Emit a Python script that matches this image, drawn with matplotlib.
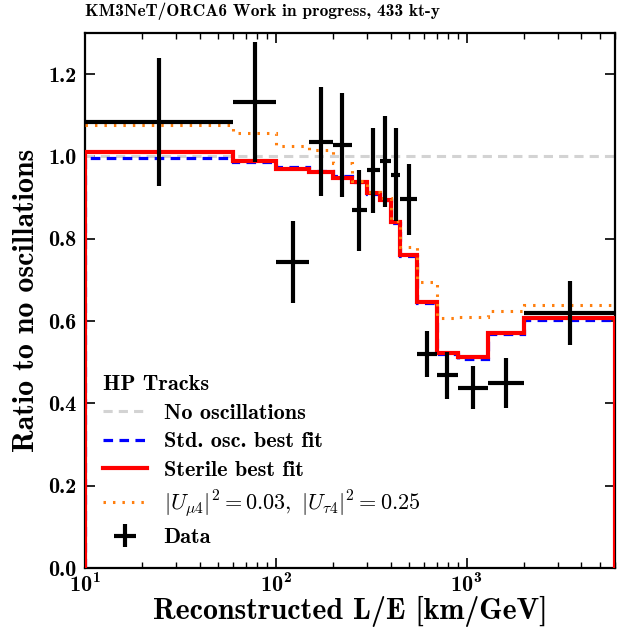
import matplotlib
matplotlib.use("Agg")
import matplotlib.pyplot as plt
from matplotlib.lines import Line2D
import numpy as np

plt.rcParams['font.family'] = ['cmb10', 'DejaVu Serif']
plt.rcParams['mathtext.fontset'] = 'cm'
plt.rcParams['axes.unicode_minus'] = False
plt.rcParams['axes.formatter.use_mathtext'] = True

# L/E binning [km/GeV]
bin_edges = [10, 60, 100, 150, 200, 250, 300, 350, 400, 450, 550, 700, 900, 1300, 2000, 6000]

# Ratio to no oscillations, per bin
no_osc = [1.0] * 15
std_osc = [0.997, 0.986, 0.975, 0.965, 0.952, 0.937, 0.909, 0.893, 0.838, 0.758,
           0.644, 0.519, 0.508, 0.569, 0.602]
sterile = [1.012, 0.990, 0.970, 0.962, 0.948, 0.938, 0.911, 0.895, 0.840, 0.761,
           0.647, 0.522, 0.512, 0.572, 0.607]
alt_hyp = [1.077, 1.057, 1.026, 1.015, 0.984, 0.941, 0.914, 0.898, 0.843, 0.781,
           0.696, 0.607, 0.609, 0.625, 0.639]

# Measured data
data_x = [24.5, 77.5, 122.5, 173.2, 223.6, 273.9, 324.0, 374.2, 424.3, 500.0,
          620.5, 793.7, 1081.7, 1612.5, 3464.1]
data_y = [1.084, 1.132, 0.743, 1.036, 1.028, 0.869, 0.966, 0.988, 0.956, 0.896,
          0.520, 0.468, 0.438, 0.450, 0.619]
data_yerr = [0.155, 0.145, 0.099, 0.133, 0.126, 0.098, 0.104, 0.110, 0.113, 0.086,
             0.057, 0.057, 0.052, 0.061, 0.078]

edges = np.array(bin_edges, dtype=float)
xc = np.array(data_x)
xerr = np.vstack([xc - edges[:-1], edges[1:] - xc])

GRAY_DASH = (0, (3, 2))
BLUE_DASH = (0, (3, 2))
DOTS = (0, (0.8, 2.3))

fig = plt.figure(figsize=(6.17, 6.28), dpi=100)
ax = fig.add_axes([0.1378, 0.0955, 0.859, 0.852])

ax.stairs(no_osc, edges, baseline=None, color='lightgray', lw=2.2, ls=GRAY_DASH, zorder=2)
ax.stairs(std_osc, edges, baseline=0, color='blue', lw=2.3, ls=BLUE_DASH, zorder=3)
ax.stairs(sterile, edges, baseline=0, color='red', lw=3.0, zorder=4)
ax.stairs(alt_hyp, edges, baseline=None, color='tab:orange', lw=2.2, ls=DOTS, zorder=5)
err = ax.errorbar(xc, data_y, xerr=xerr, yerr=data_yerr, fmt='none', ecolor='black',
                  elinewidth=3.0, capsize=0, zorder=6)

ax.set_xscale('log')
ax.set_xlim(10, 6000)
ax.set_ylim(0, 1.3)
ax.set_yticks(np.arange(0, 1.21, 0.2))
ax.set_yticklabels([f"{v:.1f}" for v in np.arange(0, 1.21, 0.2)])

ax.tick_params(which='both', direction='in', top=True, right=True, labelsize=16)
ax.tick_params(axis='y', pad=6)
ax.tick_params(which='major', length=7, width=1.2)
ax.tick_params(which='minor', length=4, width=1.0)
for s in ax.spines.values():
    s.set_linewidth(1.6)

ax.set_xlabel('Reconstructed L/E [km/GeV]', fontsize=21.5, labelpad=0)
ax.set_ylabel('Ratio to no oscillations', fontsize=21.5, labelpad=6)
ax.set_title('KM3NeT/ORCA6 Work in progress, 433 kt-y', loc='left', fontsize=12.5, pad=12)

handles = [
    Line2D([], [], color='lightgray', lw=2.2, ls=GRAY_DASH),
    Line2D([], [], color='blue', lw=2.3, ls=BLUE_DASH),
    Line2D([], [], color='red', lw=3.0),
    Line2D([], [], color='tab:orange', lw=2.2, ls=DOTS),
    err,
]
labels = [
    'No oscillations',
    'Std. osc. best fit',
    'Sterile best fit',
    r'$|U_{\mu\mathbf{4}}|^{\mathbf{2}} = \mathbf{0.03},\ |U_{\tau\mathbf{4}}|^{\mathbf{2}} = \mathbf{0.25}$',
    'Data',
]
leg = ax.legend(handles, labels, title='HP Tracks', loc='lower left', frameon=False,
                fontsize=16, title_fontsize=16, handlelength=2.0, handletextpad=0.75,
                labelspacing=0.40, borderaxespad=0.53, bbox_to_anchor=(-0.006, 0.0),
                alignment='left')

fig.savefig('out.png', dpi=100)
